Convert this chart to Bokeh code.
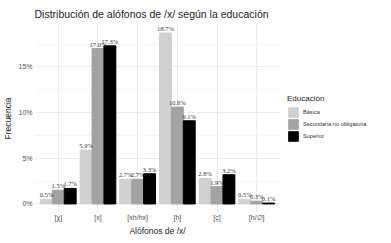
from bokeh.plotting import figure
from bokeh.layouts import row
from bokeh.models import (ColumnDataSource, Range1d, FixedTicker, PrintfTickFormatter,
                          Legend, LegendItem, LabelSet, Title)
from bokeh.embed import file_html
from bokeh.resources import INLINE

cats = ["[χ]", "[x]", "[xh/hx]", "[h]", "[ç]", "[h/∅]"]
groups = ["Básica", "Secundaria no obligatoria", "Superior"]
basica = [0.5, 5.9, 2.7, 18.7, 2.8, 0.5]
secundaria = [1.5, 17.0, 2.7, 10.6, 1.9, 0.3]
superior = [1.7, 17.3, 3.3, 9.1, 3.2, 0.1]
colors = ["#d0d0d0", "#a3a3a3", "#000000"]
y_ticks = [0, 5, 10, 15]

FONT = "Liberation Sans"

p = figure(width=283, height=235, output_backend="svg", toolbar_location=None,
           x_range=Range1d(0.4, 6.6), y_range=Range1d(-0.935, 19.635),
           min_border_left=28, min_border_right=3, min_border_top=7, min_border_bottom=0)
p.outline_line_color = None
p.background_fill_color = "white"

p.title.text = "Distribución de alófonos de /x/ según la educación"
p.title.text_font = FONT
p.title.text_font_size = "10.5px"
p.title.text_font_style = "normal"
p.title.text_color = "#222222"
p.title.offset = 0

series = [basica, secundaria, superior]
offsets = [-0.3, 0.0, 0.3]
for g, vals, col, off in zip(groups, series, colors, offsets):
    xs = [i + 1 + off for i in range(len(cats))]
    src = ColumnDataSource(dict(x=xs, top=vals, lab=[f"{v:.1f}%" for v in vals]))
    p.vbar(x="x", top="top", bottom=0, width=0.3, source=src,
           fill_color=col, line_color=col)
    lbl = LabelSet(x="x", y="top", text="lab", source=src, text_align="center",
                   text_baseline="bottom", y_offset=1, text_font=FONT,
                   text_font_size="6.5px", text_color="#333333")
    p.add_layout(lbl)

# axes
p.xaxis.ticker = FixedTicker(ticks=[i + 1 for i in range(len(cats))])
p.xaxis.major_label_overrides = {i + 1: c for i, c in enumerate(cats)}
p.yaxis.ticker = FixedTicker(ticks=y_ticks, minor_ticks=[2.5, 7.5, 12.5, 17.5])
p.yaxis.formatter = PrintfTickFormatter(format="%d%%")
for ax in (p.xaxis[0], p.yaxis[0]):
    ax.axis_line_color = None
    ax.major_tick_line_color = None
    ax.minor_tick_line_color = None
    ax.major_tick_out = 0
    ax.major_tick_in = 0
    ax.minor_tick_out = 0
    ax.minor_tick_in = 0
    ax.major_label_text_font = FONT
    ax.major_label_text_font_size = "7px"
    ax.major_label_text_color = "#4d4d4d"
    ax.axis_label_text_font = FONT
    ax.axis_label_text_font_size = "8.5px"
    ax.axis_label_text_font_style = "normal"
    ax.axis_label_text_color = "#222222"
p.yaxis.axis_label = "Frecuencia"
p.xaxis.major_label_standoff = 1
p.yaxis.major_label_standoff = 2
p.yaxis.axis_label_standoff = 2

xtitle = Title(text="Alófonos de /x/", align="center", standoff=0,
               text_font=FONT, text_font_size="8.5px", text_font_style="normal",
               text_color="#222222")
p.add_layout(xtitle, "below")

p.xgrid.ticker = FixedTicker(ticks=[i + 1 for i in range(len(cats))])
p.xgrid.grid_line_color = "#ebebeb"
p.ygrid.grid_line_color = "#ebebeb"
p.ygrid.minor_grid_line_color = "#f4f4f4"

# legend panel
q = figure(width=92, height=235, output_backend="svg", toolbar_location=None,
           min_border_left=4, min_border_right=0, min_border_top=10, min_border_bottom=0,
           x_axis_type=None, y_axis_type=None,
           x_range=Range1d(0, 1), y_range=Range1d(0, 1))
q.outline_line_color = None
q.xgrid.visible = False
q.ygrid.visible = False
items = []
for g, col in zip(groups, colors):
    r = q.vbar(x=[5], top=[1], width=0.3, fill_color=col, line_color=col)
    items.append(LegendItem(label=g, renderers=[r]))
legend = Legend(items=items, location="center_left", title="Educación",
                title_text_font=FONT, title_text_font_size="8px",
                title_text_font_style="normal",
                title_text_color="#222222", label_text_font=FONT,
                label_text_font_size="5.6px", label_text_color="#333333",
                glyph_width=12, glyph_height=12, label_height=12, spacing=0,
                padding=1, margin=0, background_fill_alpha=0,
                border_line_color=None, title_standoff=3, label_standoff=4)
q.add_layout(legend)

layout = row(p, q, spacing=0)
open("out.html", "w").write(file_html(layout, INLINE))
